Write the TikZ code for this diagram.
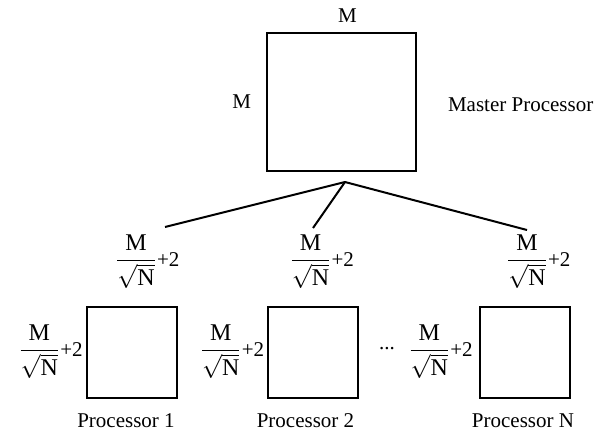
\documentclass[tikz,border=0pt]{standalone}
\usepackage{amsmath}
\usepackage{fontspec}
\setmainfont{Liberation Serif}
\usetikzlibrary{positioning}
\newcommand{\blocksize}{{\fontsize{12}{14}\selectfont$\dfrac{\text{M}}{\sqrt{\text{N}}}$}}

\begin{document}
\begin{tikzpicture}[x=0.5pt,y=-0.5pt,font=\fontsize{10.5}{12}\selectfont,
  procbox/.style={draw,line width=1pt,minimum width=45pt,minimum height=45.5pt,inner sep=0pt},
  link/.style={line width=1pt}]
\useasboundingbox (0,0) rectangle (598,435);

% master processor holds the whole M x M grid
\node[procbox,minimum width=74.5pt,minimum height=69pt] (master) at (341.5,102) {};
\node[above=1pt of master,xshift=3pt] (mtop) {M};
\node[left=4pt of master] (mleft) {M};
\node[right=12pt of master,yshift=-1.5pt] (mname) {Master Processor};

% fan-out to the workers
\coordinate (fork) at (345,182);
\coordinate (end1) at (165,227);
\coordinate (end2) at (313,228);
\coordinate (endn) at (527,230);
\draw[link] (fork) -- (end1);
\draw[link] (fork) -- (end2);
\draw[link] (fork) -- (endn);

% worker blocks
\node[procbox] (p1) at (132,352.5) {};
\node[procbox] (p2) at (312.5,352.5) {};
\node[procbox] (pn) at (525,352.5) {};

\node[above=5pt of p1,xshift=2pt] (p1top) {\blocksize\rlap{+2}};
\node[above=5pt of p2,xshift=-1pt] (p2top) {\blocksize\rlap{+2}};
\node[above=5pt of pn,xshift=1pt] (pntop) {\blocksize\rlap{+2}};

\node[left=0.5pt of p1,yshift=0.5pt,inner sep=1pt] (p1side) {\blocksize+2};
\node[left=0pt of p2,yshift=0.5pt,inner sep=1pt] (p2side) {\blocksize+2};
\node[left=2pt of pn,yshift=0.5pt,inner sep=1pt] (pnside) {\blocksize+2};

\node at (387,349) (dots) {...};

\node[below=4pt of p1,xshift=-3pt] (p1name) {Processor 1};
\node[below=4pt of p2,xshift=-3.5pt] (p2name) {Processor 2};
\node[below=4pt of pn,xshift=-1pt] (pnname) {Processor N};
\end{tikzpicture}
\end{document}
